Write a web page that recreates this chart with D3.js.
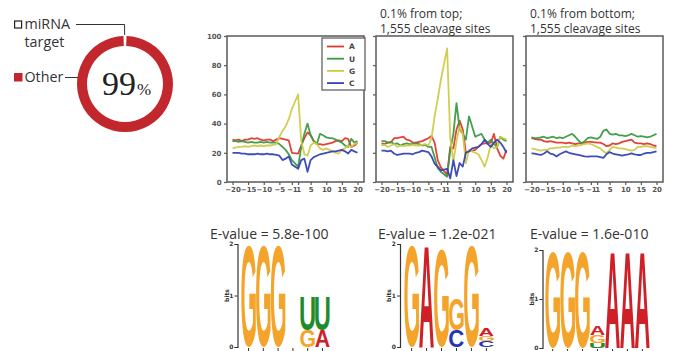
<!DOCTYPE html>
<html><head><meta charset="utf-8">
<script src="https://cdn.jsdelivr.net/npm/d3@7"></script>
<style>html,body{margin:0;padding:0;background:#fff}svg{display:block}</style>
</head><body>
<svg id="c" width="675" height="351"></svg>
<script>
// ---------- DATA ----------
const pieLabels = ["miRNA target", "Other"];
const pieValues = [1, 99];
const pieCenterText = "99";

const positions = [-20,-19,-18,-17,-16,-15,-14,-13,-12,-11,-10,-9,-8,-7,-6,-5,-4,-3,-2,-1,
                   1,2,3,4,5,6,7,8,9,10,11,12,13,14,15,16,17,18,19,20];
const xTicks = [-20,-15,-10,-5,-1,1,5,10,15,20];
const yTicks = [0,20,40,60,80,100];
const nucleotides = ["A","U","G","C"];

// panel 1: all cleavage sites
const allA = [29,28.5,29,28,29, 29,30,29.5,30,29, 28.5,29,29,28,29, 30,29.5,29,28.5,20, 19.5,25,30,34,32, 28,26,26,25.5,26, 26.5,27,28,28.5,28, 30,29.5,24,25,27];
const allU = [28,28,27.5,28,27.5, 27,27.5,27,27,27.5, 27,27.5,27,27,27, 26,24,22,19,15, 10.5,24,33,40,32, 28,26,33,32,30.5, 30,30,29,28,27, 25,24,29.5,27,28];
const allG = [23,23.5,24,24,24.5, 24,24.5,25,24.5,25, 24.5,25,25,25.5,26, 31,35,38,43,50, 60,28,19,18,25, 27,26,23,22,23, 22,21,20,19.5,22, 23,25,24,26,27];
const allC = [20,20,20,19.5,19.5, 19,19,19,19.5,19, 19,19.5,19,19,18.5, 18,15,16,17.5,12, 9,15,16,7,15, 17,18,19,19.5,20, 20.5,21,21,21.5,22, 21,19.5,22,21,20];
// panel 2: 0.1% from top
const topA = [26.5,26,27,27,30, 30,30.5,31,29,28.5, 27,27,27.5,28,29, 30,31.5,27,15,10, 5,24,23,36,42, 36,20,21,21.5,22, 24,26,26.5,26.5,27, 33,23,18,16,22];
const topU = [28,28,27,27.5,26, 26.5,25,26,26.5,26, 26,26.5,26,25,25.5, 24,24,17,9.5,7, 3.6,22,33,54,36, 33,29,45,38,31, 32,33,29,27,29, 26,24,31,29,28];
const topG = [25,25.5,24,25,26, 24,25,24.5,25,25, 25.5,25,25,25.5,26, 25,30,45,57,70, 91.5,30,14,28,38, 33,13,22,21,20, 19,15,10.5,17,26, 23,24,31,30,29];
const topC = [21.5,21.5,21,21.5,19.5, 18.5,19,19.5,19.5,19.5, 19,20,20.5,21.5,21, 20.5,17.5,12.5,10.5,8, 9,2.5,15,4,13, 10.5,20,21,23,23.5, 24,26,29,26,24, 27,29,27,24,20];
// panel 3: 0.1% from bottom
const botA = [30,29.5,29,29,28, 27.5,28,27.5,27,27, 27,26.5,27,26.5,26, 26.5,26.5,27,27.5,27.5, 27,27,26,24.5,25, 26.5,26,26.5,27.5,28, 28.5,29,27,26.5,26.5, 26,26.5,26,25,24.5];
const botU = [30.5,30,30,30.5,31, 30,30.5,31,30,30.5, 30,31,32,33,31, 28.5,26.5,28,30,30.5, 29.5,31,35,36,33, 32.5,33,32,32,31.5, 32,33,32,31,31.5, 31,30.5,31,32,33];
const botG = [23,22.5,22,21.5,22, 22,23,23,23.5,23.5, 24,24,24,25,24.5, 25,25.5,26,26.5,26, 24,23,21,19.6,22, 24,23.5,23,23,22.5, 22,21.5,22,24,24, 24.5,24.5,24,23.5,23];
const botC = [19.6,19.5,19,18.5,19.5, 21,19.5,19,17.5,19, 20,21,20,19.5,19, 18.5,18,17.5,17.4,17.5, 17.5,17,16.5,19,20.5, 19.5,19,18.5,18,18.5, 19,19.6,19,18.5,18.5, 19.5,20,20,20.5,21];

const panelTitles = [[], ["0.1% from top;", "1,555 cleavage sites"], ["0.1% from bottom;", "1,555 cleavage sites"]];
const eValues = ["E-value = 5.8e-100", "E-value = 1.2e-021", "E-value = 1.6e-010"];
const bitTicks = [0, 1, 2];

// sequence logos: each column lists [letter, bits] from bottom to top
const logo1 = [[["G",1.97]], [["G",1.97]], [["G",1.96]], [], [["G",0.32],["U",0.66]], [["A",0.33],["U",0.66]]];
const logo2 = [[["G",1.96]], [["A",1.96]], [["G",1.9]], [["C",0.33],["G",0.62]], [["G",1.96]], [["C",0.12],["G",0.1],["A",0.15]]];
const logo3 = [[["G",1.97]], [["G",1.97]], [["G",1.96]], [["U",0.1],["G",0.17],["A",0.17]], [["A",1.97]], [["A",1.97]], [["A",1.97]]];

// ---------- STYLE ----------
const lineColors = {A:"#e2392e", U:"#3b9a43", G:"#cdcb4a", C:"#3444b2"};
const logoColors = {A:"#cf2027", C:"#2436b4", G:"#f4a42a", U:"#1f8b2c"};
const ringColor = "#c1272d";
const sansFont = "'Open Sans', 'Noto Sans', sans-serif";

const svg = d3.select("#c");

// ---------- DONUT ----------
(function(){
  const cx = 125, cy = 84, rOut = 48, rIn = 38;
  const off = Math.PI * pieValues[0] / 100;
  const pie = d3.pie().sort(null).startAngle(-off).endAngle(2*Math.PI - off);
  const arc = d3.arc().innerRadius(rIn).outerRadius(rOut);
  const g = svg.append("g").attr("transform", `translate(${cx},${cy})`);
  g.selectAll("path").data(pie(pieValues)).join("path")
    .attr("d", arc)
    .attr("fill", (d,i) => i === 0 ? "#ffffff" : ringColor);
  g.append("text").attr("x", -23).attr("y", 11)
    .attr("font-family", "'Liberation Serif', serif").attr("font-size", 34).attr("fill", "#222")
    .text(pieCenterText)
    .append("tspan").attr("font-size", 17).attr("dx", 1).text("%");

  // legend
  const lg = svg.append("g").attr("font-family", sansFont).attr("font-size", 14.3).attr("fill", "#333");
  lg.append("rect").attr("x", 14.6).attr("y", 21).attr("width", 7).attr("height", 7)
    .attr("fill", "#fff").attr("stroke", "#222").attr("stroke-width", 1.2);
  const words = pieLabels[0].split(" ");
  lg.append("text").attr("x", 24.5).attr("y", 29).text(words[0]);
  lg.append("text").attr("x", 24.5).attr("y", 46.5).text(words[1]);
  lg.append("rect").attr("x", 14).attr("y", 73).attr("width", 8.5).attr("height", 8.5).attr("fill", ringColor);
  lg.append("text").attr("x", 24.5).attr("y", 82).text(pieLabels[1]);
  svg.append("path").attr("d", `M76,24.5H124.6V35`).attr("fill", "none").attr("stroke", "#333").attr("stroke-width", 1);
  svg.append("path").attr("d", `M65,77.5H78`).attr("fill", "none").attr("stroke", "#333").attr("stroke-width", 1);
})();

// ---------- LINE PANELS ----------
const panels = [
  {left: 227, series: {A: allA, U: allU, G: allG, C: allC}, labels: true, legend: true},
  {left: 376, series: {A: topA, U: topU, G: topG, C: topC}, labels: false},
  {left: 526, series: {A: botA, U: botU, G: botG, C: botC}, labels: false}
];
const plotTop = 36, plotBottom = 182, frameW = 137;

panels.forEach((p, pi) => {
  const x = d3.scaleLinear().domain([-20, 20]).range([p.left + 5.5, p.left + 130.5]);
  const y = d3.scaleLinear().domain([0, 100]).range([plotBottom, plotTop]);
  const g = svg.append("g");
  g.append("rect").attr("x", p.left).attr("y", plotTop).attr("width", frameW).attr("height", plotBottom - plotTop)
    .attr("fill", "#fff");
  const line = d3.line().x((d,i) => x(positions[i])).y(d => y(d));
  nucleotides.forEach(n => {
    g.append("path").datum(p.series[n]).attr("d", line)
      .attr("fill", "none").attr("stroke", lineColors[n]).attr("stroke-width", 1.8)
      .attr("stroke-linejoin", "round").attr("opacity", 0.95);
  });
  g.append("rect").attr("x", p.left).attr("y", plotTop).attr("width", frameW).attr("height", plotBottom - plotTop)
    .attr("fill", "none").attr("stroke", "#5a5a5a").attr("stroke-width", 1.5);

  const ax = g.append("g").attr("transform", `translate(0,${plotBottom})`)
    .call(d3.axisBottom(x).tickValues(xTicks).tickSize(3).tickPadding(2.5).tickFormat(d3.format("d")));
  const ay = g.append("g").attr("transform", `translate(${p.left},0)`)
    .call(d3.axisLeft(y).tickValues(yTicks).tickSize(3).tickPadding(2.5)
      .tickFormat(p.labels ? d3.format("d") : () => ""));
  [ax, ay].forEach(a => {
    a.select(".domain").remove();
    a.selectAll(".tick line").attr("stroke", "#5a5a5a").attr("stroke-width", 1.2);
    a.selectAll("text").attr("font-family", "'DejaVu Sans', sans-serif").attr("font-size", 7)
      .attr("font-weight", "bold").attr("fill", "#555");
  });

  if (p.legend) {
    const lg = g.append("g");
    lg.append("rect").attr("x", 322).attr("y", 38).attr("width", 43).attr("height", 52)
      .attr("fill", "#fff").attr("stroke", "#555").attr("stroke-width", 1.2);
    nucleotides.forEach((n, i) => {
      const yy = 46.5 + i * 12.2;
      lg.append("line").attr("x1", 327).attr("x2", 344).attr("y1", yy).attr("y2", yy)
        .attr("stroke", lineColors[n]).attr("stroke-width", 1.8);
      lg.append("text").attr("x", 349).attr("y", yy + 2.8).text(n)
        .attr("font-family", "'DejaVu Sans', sans-serif").attr("font-size", 7.5)
        .attr("font-weight", "bold").attr("fill", "#444");
    });
  }
  panelTitles[pi].forEach((t, k) => {
    g.append("text").attr("x", p.left + 4).attr("y", 18 + k * 14.5).text(t)
      .attr("font-family", sansFont).attr("font-size", 12).attr("fill", "#333");
  });
});

// ---------- SEQUENCE LOGOS ----------
const cvs = document.createElement("canvas").getContext("2d");
cvs.font = "bold 100px 'Liberation Sans'";
const metrics = {};
["A","C","G","U"].forEach(l => {
  const m = cvs.measureText(l);
  metrics[l] = {l: m.actualBoundingBoxLeft, r: m.actualBoundingBoxRight,
                a: m.actualBoundingBoxAscent, d: m.actualBoundingBoxDescent};
});

const logos = [
  {data: logo1, axisX: 237.5, colL: 241, colR: 330, y0: 347, y2: 244, label: eValues[0], labelX: 210},
  {data: logo2, axisX: 400, colL: 404, colR: 494, y0: 347, y2: 244, label: eValues[1], labelX: 378},
  {data: logo3, axisX: 542.5, colL: 545, colR: 650, y0: 348, y2: 250, label: eValues[2], labelX: 530}
];
logos.forEach(L => {
  const g = svg.append("g");
  g.append("text").attr("x", L.labelX).attr("y", 238.5).text(L.label)
    .attr("font-family", sansFont).attr("font-size", 14).attr("fill", "#333");
  const y = d3.scaleLinear().domain([0, 2]).range([L.y0, L.y2]);
  const x = d3.scaleBand().domain(d3.range(L.data.length)).range([L.colL, L.colR]).padding(0.02);
  const ay = g.append("g").attr("transform", `translate(${L.axisX},0)`)
    .call(d3.axisLeft(y).tickValues(bitTicks).tickSize(3).tickPadding(1).tickFormat(d3.format("d")));
  ay.select(".domain").attr("stroke", "#333").attr("stroke-width", 1.2);
  ay.selectAll(".tick line").attr("stroke", "#333").attr("stroke-width", 1);
  ay.selectAll("text").attr("font-family", "'DejaVu Sans', sans-serif").attr("font-size", 6)
    .attr("font-weight", "bold").attr("fill", "#333");
  g.append("text").attr("transform", `translate(${L.axisX - 9},${y(1)}) rotate(-90)`)
    .attr("text-anchor", "middle").text("bits")
    .attr("font-family", "'DejaVu Sans', sans-serif").attr("font-size", 6)
    .attr("font-weight", "bold").attr("fill", "#333");
  L.data.forEach((col, ci) => {
    let cum = 0;
    const x0 = x(ci), w = x.bandwidth();
    col.forEach(([letter, bits]) => {
      const yb = y(cum), yt = y(cum + bits);
      cum += bits;
      const m = metrics[letter];
      const sx = w / (m.l + m.r), sy = (yb - yt) / (m.a + m.d);
      g.append("text").text(letter)
        .attr("font-family", "'Liberation Sans', Arial, sans-serif").attr("font-weight", "bold")
        .attr("font-size", 100).attr("fill", logoColors[letter])
        .attr("transform", `translate(${x0 + m.l * sx},${yt + m.a * sy}) scale(${sx},${sy})`);
    });
    g.append("line").attr("x1", x0 + w/2).attr("x2", x0 + w/2).attr("y1", L.y0 + 1).attr("y2", L.y0 + 4)
      .attr("stroke", "#333").attr("stroke-width", 1);
  });
});
</script>
</body></html>
